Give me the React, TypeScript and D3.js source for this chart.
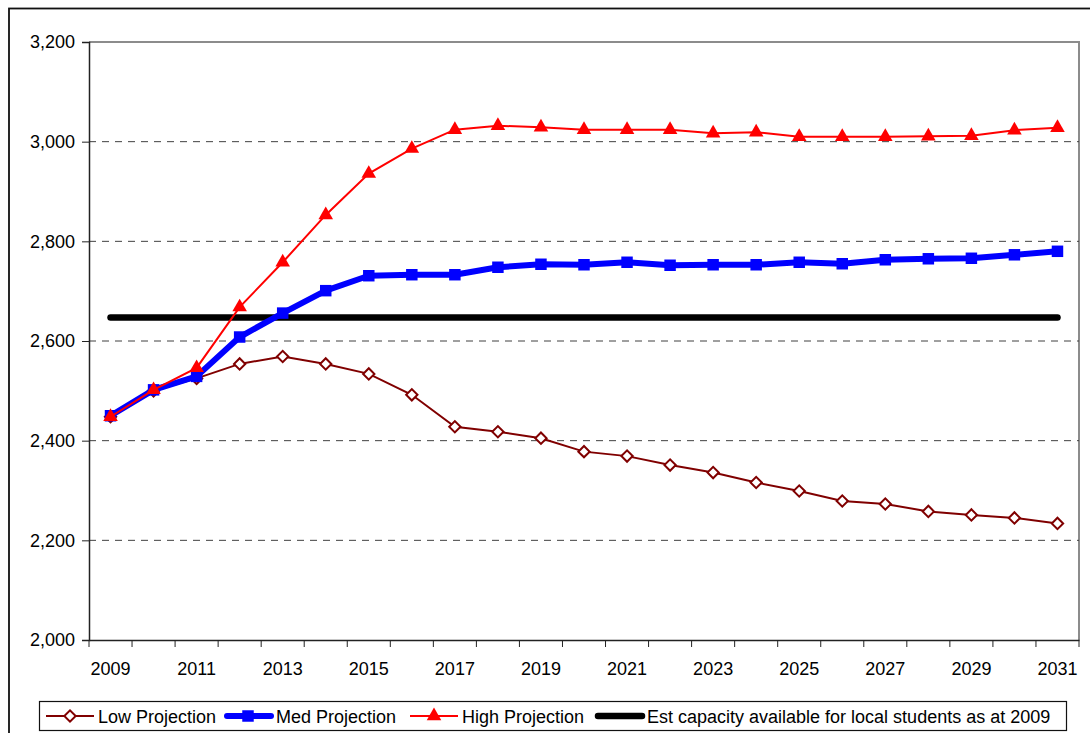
import { useRef, useEffect } from 'react';
import * as d3 from 'd3';

const years = [
  2009, 2010, 2011, 2012, 2013, 2014, 2015, 2016, 2017, 2018, 2019, 2020,
  2021, 2022, 2023, 2024, 2025, 2026, 2027, 2028, 2029, 2030, 2031,
];

const lowProjection = [
  2448, 2500, 2525, 2554, 2569, 2554, 2534, 2492, 2428, 2418, 2405, 2378,
  2369, 2351, 2336, 2316, 2299, 2279, 2273, 2258, 2251, 2245, 2234,
];

const medProjection = [
  2450, 2502, 2529, 2608, 2656, 2701, 2731, 2733, 2733, 2748, 2754, 2753,
  2758, 2752, 2753, 2753, 2758, 2755, 2763, 2765, 2766, 2773, 2780,
];

const highProjection = [
  2448, 2502, 2546, 2668, 2758, 2853, 2936, 2986, 3024, 3032, 3029, 3024,
  3024, 3024, 3017, 3019, 3010, 3010, 3010, 3011, 3012, 3023, 3028,
];

const capacity2009 = 2647;

const yTicks = [2000, 2200, 2400, 2600, 2800, 3000, 3200];

const legendLabels = [
  'Low Projection',
  'Med Projection',
  'High Projection',
  'Est capacity available for local students as at 2009',
];

const FONT = '"Liberation Sans", Arial, sans-serif';

export default function App() {
  const svgRef = useRef<SVGSVGElement>(null);

  useEffect(() => {
    if (!svgRef.current) return;
    const svg = d3.select(svgRef.current);
    svg.selectAll('*').remove();

    const plot = { left: 89, right: 1079, top: 42, bottom: 640 };

    const x = d3.scaleBand<number>().domain(years).range([plot.left, plot.right]).padding(0);
    const cx = (yr: number) => (x(yr) ?? 0) + x.bandwidth() / 2;
    const y = d3.scaleLinear().domain([2000, 3200]).range([plot.bottom, plot.top]);

    // outer chart frame (cut off by the picture on the right and bottom)
    svg
      .append('rect')
      .attr('x', 9)
      .attr('y', 8.5)
      .attr('width', 1200)
      .attr('height', 900)
      .attr('fill', 'white')
      .attr('stroke', '#111')
      .attr('stroke-width', 1.8);

    // plot area border (grey top / right)
    svg
      .append('path')
      .attr('d', `M${plot.left},${plot.top}H${plot.right}V${plot.bottom}`)
      .attr('fill', 'none')
      .attr('stroke', '#8c8c8c')
      .attr('stroke-width', 2);

    // dashed gridlines
    svg
      .append('g')
      .selectAll('line')
      .data(yTicks.filter((t) => t > 2000 && t < 3200))
      .join('line')
      .attr('x1', plot.left)
      .attr('x2', plot.right)
      .attr('y1', (d) => y(d))
      .attr('y2', (d) => y(d))
      .attr('stroke', '#404040')
      .attr('stroke-width', 1)
      .attr('stroke-dasharray', '7,6');

    // y axis
    const yAxis = svg
      .append('g')
      .attr('transform', `translate(${plot.left},0)`)
      .call(
        d3
          .axisLeft(y)
          .tickValues(yTicks)
          .tickSize(7)
          .tickPadding(7)
          .tickFormat((d) => d3.format(',')(d as number))
      );
    yAxis.select('.domain').attr('stroke', '#222').attr('stroke-width', 1.5);
    yAxis.selectAll('.tick line').attr('stroke', '#222');
    yAxis.selectAll('text').attr('font-family', FONT).attr('font-size', 18).attr('fill', '#000');

    // x axis
    const xAxis = svg
      .append('g')
      .attr('transform', `translate(0,${plot.bottom})`)
      .call(
        d3
          .axisBottom(x)
          .tickSize(0)
          .tickPadding(22)
          .tickFormat((d) => ((d as number) % 2 === 1 ? String(d) : ''))
      );
    xAxis.select('.domain').attr('stroke', '#222').attr('stroke-width', 1.5);
    xAxis.selectAll('text').attr('font-family', FONT).attr('font-size', 18).attr('fill', '#000');

    const boundaries = [...years.map((yr) => x(yr) ?? 0), plot.right];
    svg
      .append('g')
      .selectAll('line')
      .data(boundaries)
      .join('line')
      .attr('x1', (d) => d)
      .attr('x2', (d) => d)
      .attr('y1', plot.bottom)
      .attr('y2', plot.bottom + 7)
      .attr('stroke', '#222')
      .attr('stroke-width', 1);

    // capacity line
    svg
      .append('line')
      .attr('x1', cx(years[0]))
      .attr('x2', cx(years[years.length - 1]))
      .attr('y1', y(capacity2009))
      .attr('y2', y(capacity2009))
      .attr('stroke', '#000')
      .attr('stroke-width', 6.5)
      .attr('stroke-linecap', 'round');

    const line = d3
      .line<number>()
      .x((_, i) => cx(years[i]))
      .y((d) => y(d));

    const diamond = d3.symbol(d3.symbolSquare, 64)();
    const square = d3.symbol(d3.symbolSquare, 132)();
    const triangle = d3.symbol(d3.symbolTriangle, 92)();

    // low projection
    svg
      .append('path')
      .attr('d', line(lowProjection))
      .attr('fill', 'none')
      .attr('stroke', '#800000')
      .attr('stroke-width', 2);
    svg
      .append('g')
      .selectAll('path')
      .data(lowProjection)
      .join('path')
      .attr('d', diamond)
      .attr('transform', (d, i) => `translate(${cx(years[i])},${y(d)}) rotate(45)`)
      .attr('fill', 'white')
      .attr('stroke', '#800000')
      .attr('stroke-width', 2);

    // med projection
    svg
      .append('path')
      .attr('d', line(medProjection))
      .attr('fill', 'none')
      .attr('stroke', '#0000ff')
      .attr('stroke-width', 6)
      .attr('stroke-linejoin', 'round');
    svg
      .append('g')
      .selectAll('path')
      .data(medProjection)
      .join('path')
      .attr('d', square)
      .attr('transform', (d, i) => `translate(${cx(years[i])},${y(d)})`)
      .attr('fill', '#0000ff');

    // high projection
    svg
      .append('path')
      .attr('d', line(highProjection))
      .attr('fill', 'none')
      .attr('stroke', '#ff0000')
      .attr('stroke-width', 2);
    svg
      .append('g')
      .selectAll('path')
      .data(highProjection)
      .join('path')
      .attr('d', triangle)
      .attr('transform', (d, i) => `translate(${cx(years[i])},${y(d)})`)
      .attr('fill', '#ff0000');

    // legend
    const legend = svg.append('g');
    legend
      .append('rect')
      .attr('x', 39.5)
      .attr('y', 701.5)
      .attr('width', 1027)
      .attr('height', 29)
      .attr('fill', 'white')
      .attr('stroke', '#111')
      .attr('stroke-width', 1.2);

    const ly = 716;
    const itemStarts = [46, 224, 410, 595];
    legendLabels.forEach((label, i) => {
      const g = legend.append('g');
      const x0 = itemStarts[i];
      const x1 = x0 + 48;
      if (i === 0) {
        g.append('line').attr('x1', x0).attr('x2', x1).attr('y1', ly).attr('y2', ly)
          .attr('stroke', '#800000').attr('stroke-width', 2);
        g.append('path').attr('d', diamond)
          .attr('transform', `translate(${(x0 + x1) / 2},${ly}) rotate(45)`)
          .attr('fill', 'white').attr('stroke', '#800000').attr('stroke-width', 2);
      } else if (i === 1) {
        g.append('line').attr('x1', x0 + 3).attr('x2', x1 - 1).attr('y1', ly).attr('y2', ly)
          .attr('stroke', '#0000ff').attr('stroke-width', 6).attr('stroke-linecap', 'round');
        g.append('path').attr('d', square)
          .attr('transform', `translate(${(x0 + x1) / 2},${ly})`).attr('fill', '#0000ff');
      } else if (i === 2) {
        g.append('line').attr('x1', x0).attr('x2', x1).attr('y1', ly).attr('y2', ly)
          .attr('stroke', '#ff0000').attr('stroke-width', 2);
        g.append('path').attr('d', triangle)
          .attr('transform', `translate(${(x0 + x1) / 2},${ly})`).attr('fill', '#ff0000');
      } else {
        g.append('line').attr('x1', x0 + 3).attr('x2', x1 - 1).attr('y1', ly).attr('y2', ly)
          .attr('stroke', '#000').attr('stroke-width', 6.5).attr('stroke-linecap', 'round');
      }
      g.append('text')
        .attr('x', x0 + 52)
        .attr('y', ly + 6.5)
        .attr('font-family', FONT)
        .attr('font-size', 18)
        .attr('fill', '#000')
        .text(label);
    });
  }, []);

  return (
    <svg
      ref={svgRef}
      width={1090}
      height={733}
      style={{ position: 'absolute', left: 0, top: 0, background: 'white' }}
    />
  );
}
